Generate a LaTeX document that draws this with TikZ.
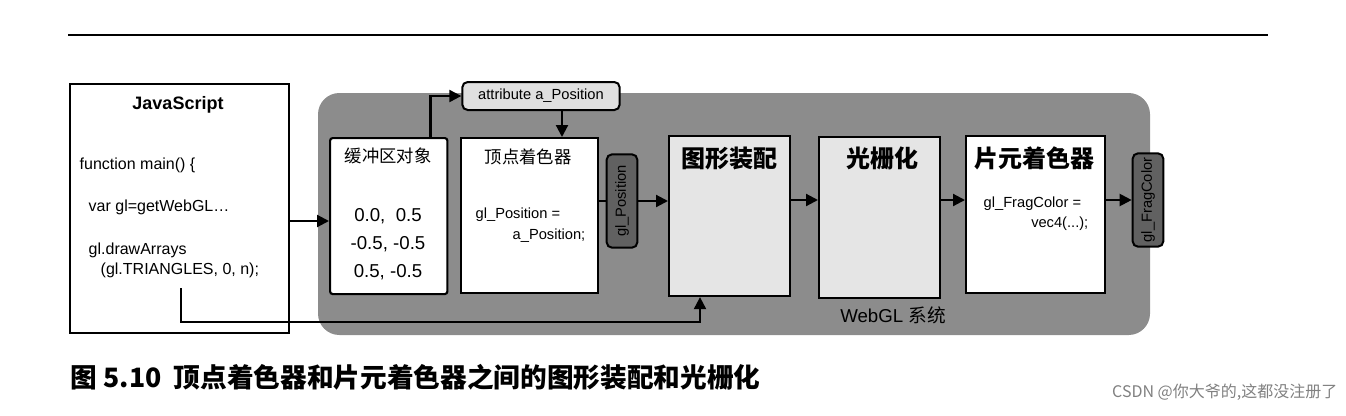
\documentclass[tikz,border=0pt]{standalone}
\usepackage{fontspec}
\setmainfont{Liberation Sans}
\newfontfamily\cjk{Noto Sans CJK SC}
\usetikzlibrary{arrows.meta}
\newcommand{\fs}[1]{\fontsize{#1}{#1}\selectfont}
\begin{document}
\begin{tikzpicture}[x=0.75pt,y=-0.75pt,
 box/.style={draw,line width=1.6pt,anchor=north west,inner sep=0pt},
 arr/.style={line width=1.6pt,-{Triangle[length=9pt,width=9pt]}},
 vtag/.style={draw,line width=1.5pt,fill=black!62,rounded corners=4pt,minimum width=70pt,minimum height=23pt,rotate=90,inner sep=1pt}]
\useasboundingbox (0,0) rectangle (1346,415);
\draw[line width=1pt] (68,35) -- (1268,35);
\fill[black!45,rounded corners=16pt] (318,93) rectangle (1150,335);
% JS box
\node[box,minimum width=164pt,minimum height=186.75pt] (js) at (69,83) {};
\node[font=\fs{13.5}\bfseries] (jst) at (178,105) {JavaScript};
\node[font=\fs{12},anchor=west] (l1) at (75,165) {function main() \{};
\node[font=\fs{12},anchor=west] (l2) at (84,207) {var gl=getWebGL\dots};
\node[font=\fs{12},anchor=west] (l3) at (84,250) {gl.drawArrays};
\node[font=\fs{12},anchor=west] (l4) at (96,270) {(gl.TRIANGLES, 0, n);};
% buffer
\node[box,fill=white,rounded corners=2pt,minimum width=88pt,minimum height=117pt] (buf) at (329,137) {};
\node[font=\fs{13}\cjk] (buft) at (388,156) {缓冲区对象};
\node[font=\fs{14}] (n1) at (388,216) {0.0,\ \ 0.5};
\node[font=\fs{14}] (n2) at (388,244) {-0.5, -0.5};
\node[font=\fs{14}] (n3) at (388,272) {0.5, -0.5};
% attribute
\node[draw,line width=1.5pt,fill=black!12,rounded corners=4pt,minimum width=118pt,minimum height=21pt,inner sep=0pt] (attr) at (541,96) {\fs{11}attribute a\_Position};
% vertex shader
\node[box,fill=white,minimum width=103pt,minimum height=116pt] (vs) at (460,137) {};
\node[font=\fs{13}\cjk] (vst) at (528,157) {顶点着色器};
\node[font=\fs{11},anchor=west] (vs1) at (471,215) {gl\_Position =};
\node[font=\fs{11},anchor=east] (vs2) at (590,236) {a\_Position;};
\node[vtag] (gp) at (622,201) {\fs{11}gl\_Position};
% assembly
\node[box,fill=black!10,minimum width=91pt,minimum height=120pt] (asm) at (668,135) {};
\node[font=\fs{18}\cjk\bfseries] (asmt) at (729,158) {图形装配};
% raster
\node[box,fill=black!10,minimum width=91pt,minimum height=121pt] (ras) at (818,136) {};
\node[font=\fs{18}\cjk\bfseries] (rast) at (882,158) {光栅化};
% fragment
\node[box,fill=white,minimum width=104pt,minimum height=118pt] (fs) at (965,135) {};
\node[font=\fs{18}\cjk\bfseries] (fst) at (1034,158) {片元着色器};
\node[font=\fs{11},anchor=west] (fs1) at (979,204) {gl\_FragColor =};
\node[font=\fs{11},anchor=east] (fs2) at (1093,224) {vec4(...);};
\node[vtag] (gf) at (1148,200) {\fs{11}gl\_FragColor};
\node[font=\fs{14}] (wg) at (893,315) {WebGL {\cjk 系统}};
% arrows
\draw[arr] (js.east |- 0,221) -- (buf.west |- 0,221);
\draw[arr] (buf.north east) ++(-18,0) |- (attr.west);
\draw[arr] (attr.south -| 562,0) -- (vs.north -| 562,0);
\draw[line width=1.6pt] (vs.east |- gp) -- (gp.north);
\draw[arr] (gp.south) -- (asm.west |- gp);
\draw[arr] (asm.east |- 0,200) -- (ras.west |- 0,200);
\draw[arr] (ras.east |- 0,200) -- (fs.west |- 0,200);
\draw[arr] (fs.east |- 0,200) -- (gf.north);
\coordinate (c1) at (181,288);
\coordinate (c2) at (181,322);
\coordinate (c3) at (700,322);
\draw[arr] (c1) -- (c2) -- (c3) -- (asm.south -| c3);
% caption
\node[font=\fs{20}\cjk\bfseries,anchor=west] (cap) at (66,377) {图 5.10\ \ 顶点着色器和片元着色器之间的图形装配和光栅化};
\node[font=\fs{12}\cjk,text=black!50,anchor=east] (wm) at (1342,392) {CSDN @你大爷的,这都没注册了};
\end{tikzpicture}
\end{document}
